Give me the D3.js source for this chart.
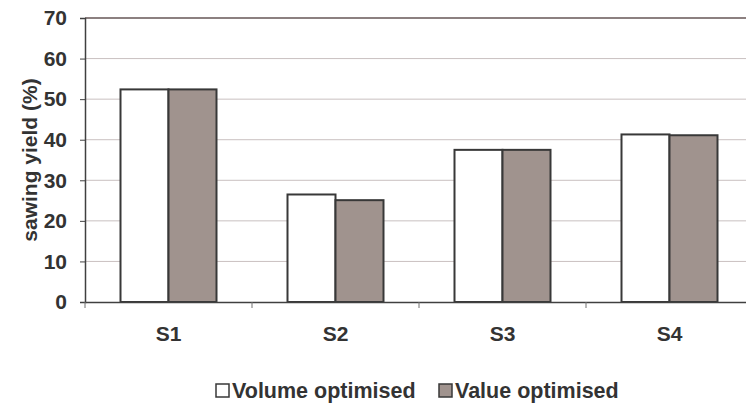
<!DOCTYPE html>
<html><head><meta charset="utf-8">
<script src="https://cdn.jsdelivr.net/npm/d3@7"></script>
<style>body{margin:0;background:#fff}svg{display:block}text{font-family:"Liberation Sans",Arial,sans-serif;font-weight:bold;fill:#333}</style>
</head><body><svg id="c" width="746" height="405"></svg>
<script>
const categories = ["S1","S2","S3","S4"];
const seriesNames = ["Volume optimised","Value optimised"];
const volumeOptimised = [52.4, 26.5, 37.5, 41.3];
const valueOptimised = [52.4, 25.1, 37.5, 41.1];
const yTicks = [0,10,20,30,40,50,60,70];
const colors = ["#ffffff","#a0938e"];

const svg = d3.select("#c");
const L = 85, R = 753, T = 18, B = 302;
const FONT = '"Liberation Sans",Arial,sans-serif';
const x = d3.scaleBand().domain(categories).range([L,R]).paddingInner(0).paddingOuter(0);
const bw = 48;
const y = d3.scaleLinear().domain([0,70]).range([B,T]);

svg.append("g").selectAll("line").data(yTicks.filter(d=>d>0 && d<70)).join("line")
  .attr("x1",L).attr("x2",R).attr("y1",d=>y(d)).attr("y2",d=>y(d))
  .attr("stroke","#c9c0c0").attr("stroke-width",1);
svg.append("line").attr("x1",L).attr("x2",R).attr("y1",y(70)).attr("y2",y(70))
  .attr("stroke","#8c8080").attr("stroke-width",2);

const data = [volumeOptimised, valueOptimised];
data.forEach((vals,si)=>{
  svg.append("g").selectAll("rect").data(categories).join("rect")
    .attr("x",(c)=>x(c)+x.bandwidth()/2 - bw + si*bw)
    .attr("y",(c,i)=>y(vals[i]))
    .attr("width",bw)
    .attr("height",(c,i)=>B-y(vals[i]))
    .attr("fill",colors[si]).attr("stroke","#383838").attr("stroke-width",2);
});

const ya = svg.append("g").attr("transform",`translate(${L},0)`)
  .call(d3.axisLeft(y).tickValues(yTicks).tickSize(5).tickPadding(13));
ya.select(".domain").attr("stroke","#404040").attr("stroke-width",1.5);
ya.selectAll(".tick line").attr("stroke","#404040");
ya.selectAll("text").attr("font-size",21).attr("font-weight","bold").attr("fill","#333").attr("font-family",FONT);

const xa = svg.append("g").attr("transform",`translate(0,${B})`)
  .call(d3.axisBottom(x).tickSize(0).tickPadding(24));
xa.select(".domain").attr("stroke","#404040").attr("stroke-width",1.5);
xa.selectAll("text").attr("font-size",21).attr("font-weight","bold").attr("fill","#333").attr("font-family",FONT);
svg.append("g").selectAll("line").data(categories.map(c=>x(c))).join("line")
  .attr("x1",d=>d).attr("x2",d=>d).attr("y1",B).attr("y2",B+6)
  .attr("stroke","#707070").attr("stroke-width",1);

svg.append("text").attr("transform",`translate(37,${(T+B)/2}) rotate(-90)`)
  .attr("text-anchor","middle").attr("font-size",21).text("sawing yield (%)");

const legX = [216, 439];
seriesNames.forEach((n,i)=>{
  svg.append("rect").attr("x",legX[i]).attr("y",384).attr("width",13).attr("height",13)
    .attr("fill",colors[i]).attr("stroke","#383838").attr("stroke-width",1.5);
  svg.append("text").attr("x",legX[i]+16).attr("y",398).attr("font-size",21.5).text(n);
});
</script></body></html>
